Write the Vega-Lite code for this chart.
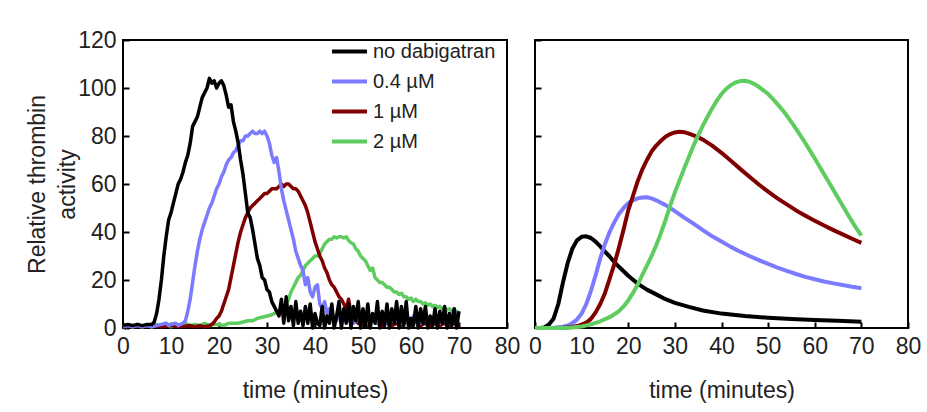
{
  "$schema": "https://vega.github.io/schema/vega-lite/v6.json",
  "background": "white",
  "autosize": {"type": "pad"},
  "padding": {"left": 25, "top": 28, "right": 5, "bottom": 5},
  "config": {
    "font": "Liberation Sans",
    "view": {"stroke": "#000", "strokeWidth": 2},
    "axis": {"grid": false, "domain": false, "tickSize": -6, "tickColor": "#000", "tickWidth": 2, "labelFontSize": 23, "labelColor": "#222", "titleFontSize": 23, "titleFontWeight": "normal", "titleColor": "#222", "labelFlush": false, "labelPadding": 13, "labelOverlap": false},
    "axisX": {"titlePadding": 21},
    "axisY": {"titlePadding": -2, "titleLineHeight": 30}
  },
  "datasets": {
    "exp": [
      {"series":"2 µM","t":0,"v":0.5},{"series":"2 µM","t":1,"v":1},{"series":"2 µM","t":2,"v":0.5},{"series":"2 µM","t":3,"v":1.5},{"series":"2 µM","t":4,"v":0.5},{"series":"2 µM","t":5,"v":1},{"series":"2 µM","t":6,"v":0.5},{"series":"2 µM","t":7,"v":1.5},{"series":"2 µM","t":8,"v":1},{"series":"2 µM","t":9,"v":2},{"series":"2 µM","t":10,"v":0.5},{"series":"2 µM","t":11,"v":1.5},{"series":"2 µM","t":12,"v":1},{"series":"2 µM","t":13,"v":2},{"series":"2 µM","t":14,"v":1},{"series":"2 µM","t":15,"v":1.5},{"series":"2 µM","t":16,"v":1},{"series":"2 µM","t":17,"v":2},{"series":"2 µM","t":18,"v":1},{"series":"2 µM","t":19,"v":1.5},{"series":"2 µM","t":20,"v":1.5},{"series":"2 µM","t":21,"v":1},{"series":"2 µM","t":22,"v":2},{"series":"2 µM","t":23,"v":2},{"series":"2 µM","t":24,"v":2},{"series":"2 µM","t":25,"v":2.5},{"series":"2 µM","t":26,"v":3},{"series":"2 µM","t":27,"v":3},{"series":"2 µM","t":28,"v":4},{"series":"2 µM","t":29,"v":4.5},{"series":"2 µM","t":30,"v":5},{"series":"2 µM","t":31,"v":5.5},{"series":"2 µM","t":32,"v":6.5},{"series":"2 µM","t":33,"v":8},{"series":"2 µM","t":34,"v":10},{"series":"2 µM","t":34.5,"v":12},{"series":"2 µM","t":35,"v":15},{"series":"2 µM","t":35.5,"v":17},{"series":"2 µM","t":36,"v":19},{"series":"2 µM","t":36.5,"v":21},{"series":"2 µM","t":37,"v":22},{"series":"2 µM","t":37.5,"v":24},{"series":"2 µM","t":38,"v":26},{"series":"2 µM","t":38.5,"v":27},{"series":"2 µM","t":39,"v":28},{"series":"2 µM","t":39.5,"v":29},{"series":"2 µM","t":40,"v":30},{"series":"2 µM","t":40.5,"v":30},{"series":"2 µM","t":41,"v":31},{"series":"2 µM","t":41.5,"v":33},{"series":"2 µM","t":42,"v":35},{"series":"2 µM","t":42.5,"v":36},{"series":"2 µM","t":43,"v":37},{"series":"2 µM","t":43.5,"v":37},{"series":"2 µM","t":44,"v":38},{"series":"2 µM","t":44.5,"v":37.5},{"series":"2 µM","t":45,"v":38},{"series":"2 µM","t":45.5,"v":38},{"series":"2 µM","t":46,"v":37.5},{"series":"2 µM","t":46.5,"v":38},{"series":"2 µM","t":47,"v":36.5},{"series":"2 µM","t":47.5,"v":35.5},{"series":"2 µM","t":48,"v":35},{"series":"2 µM","t":48.5,"v":33},{"series":"2 µM","t":49,"v":32},{"series":"2 µM","t":49.5,"v":30},{"series":"2 µM","t":50,"v":29},{"series":"2 µM","t":50.5,"v":28},{"series":"2 µM","t":51,"v":26},{"series":"2 µM","t":51.5,"v":24},{"series":"2 µM","t":52,"v":25},{"series":"2 µM","t":52.5,"v":21},{"series":"2 µM","t":53,"v":20},{"series":"2 µM","t":53.5,"v":19},{"series":"2 µM","t":54,"v":19},{"series":"2 µM","t":54.5,"v":18},{"series":"2 µM","t":55,"v":17},{"series":"2 µM","t":55.5,"v":17},{"series":"2 µM","t":56,"v":16},{"series":"2 µM","t":56.5,"v":15},{"series":"2 µM","t":57,"v":15},{"series":"2 µM","t":57.5,"v":14},{"series":"2 µM","t":58,"v":14.5},{"series":"2 µM","t":58.5,"v":13},{"series":"2 µM","t":59,"v":13},{"series":"2 µM","t":59.5,"v":12},{"series":"2 µM","t":60,"v":12.5},{"series":"2 µM","t":60.5,"v":11},{"series":"2 µM","t":61,"v":12},{"series":"2 µM","t":61.5,"v":11},{"series":"2 µM","t":62,"v":11},{"series":"2 µM","t":62.5,"v":10},{"series":"2 µM","t":63,"v":10.5},{"series":"2 µM","t":63.5,"v":9.5},{"series":"2 µM","t":64,"v":10},{"series":"2 µM","t":64.5,"v":9},{"series":"2 µM","t":65,"v":9.5},{"series":"2 µM","t":65.5,"v":8.5},{"series":"2 µM","t":66,"v":9},{"series":"2 µM","t":66.5,"v":8},{"series":"2 µM","t":67,"v":8.5},{"series":"2 µM","t":67.5,"v":7.5},{"series":"2 µM","t":68,"v":8},{"series":"2 µM","t":68.5,"v":7},{"series":"2 µM","t":69,"v":8},{"series":"2 µM","t":69.5,"v":6.5},{"series":"2 µM","t":70,"v":7},
      {"series":"1 µM","t":0,"v":0.5},{"series":"1 µM","t":2,"v":1},{"series":"1 µM","t":4,"v":0.5},{"series":"1 µM","t":6,"v":1},{"series":"1 µM","t":8,"v":0.5},{"series":"1 µM","t":10,"v":1},{"series":"1 µM","t":12,"v":0.5},{"series":"1 µM","t":14,"v":1},{"series":"1 µM","t":15,"v":0.5},{"series":"1 µM","t":16,"v":1},{"series":"1 µM","t":17,"v":0.5},{"series":"1 µM","t":18,"v":1},{"series":"1 µM","t":18.5,"v":1.5},{"series":"1 µM","t":19,"v":2.5},{"series":"1 µM","t":19.5,"v":4},{"series":"1 µM","t":20,"v":5},{"series":"1 µM","t":20.5,"v":7},{"series":"1 µM","t":21,"v":10},{"series":"1 µM","t":21.5,"v":13},{"series":"1 µM","t":22,"v":16},{"series":"1 µM","t":22.5,"v":21},{"series":"1 µM","t":23,"v":26},{"series":"1 µM","t":23.5,"v":31},{"series":"1 µM","t":24,"v":36},{"series":"1 µM","t":24.5,"v":40},{"series":"1 µM","t":25,"v":43},{"series":"1 µM","t":25.5,"v":46},{"series":"1 µM","t":26,"v":48},{"series":"1 µM","t":26.5,"v":50},{"series":"1 µM","t":27,"v":51},{"series":"1 µM","t":27.5,"v":52},{"series":"1 µM","t":28,"v":53},{"series":"1 µM","t":28.5,"v":54},{"series":"1 µM","t":29,"v":55},{"series":"1 µM","t":29.5,"v":56},{"series":"1 µM","t":30,"v":56},{"series":"1 µM","t":30.5,"v":57},{"series":"1 µM","t":31,"v":58},{"series":"1 µM","t":31.5,"v":58},{"series":"1 µM","t":32,"v":58},{"series":"1 µM","t":32.5,"v":59},{"series":"1 µM","t":33,"v":60},{"series":"1 µM","t":33.5,"v":59},{"series":"1 µM","t":34,"v":60},{"series":"1 µM","t":34.5,"v":60},{"series":"1 µM","t":35,"v":59},{"series":"1 µM","t":35.5,"v":58},{"series":"1 µM","t":36,"v":58},{"series":"1 µM","t":36.5,"v":57},{"series":"1 µM","t":37,"v":55},{"series":"1 µM","t":37.5,"v":53},{"series":"1 µM","t":38,"v":51},{"series":"1 µM","t":38.5,"v":48},{"series":"1 µM","t":39,"v":44},{"series":"1 µM","t":39.5,"v":40},{"series":"1 µM","t":40,"v":36},{"series":"1 µM","t":40.5,"v":33},{"series":"1 µM","t":41,"v":30},{"series":"1 µM","t":41.5,"v":28},{"series":"1 µM","t":42,"v":25},{"series":"1 µM","t":42.5,"v":23},{"series":"1 µM","t":43,"v":20},{"series":"1 µM","t":43.5,"v":18},{"series":"1 µM","t":44,"v":17},{"series":"1 µM","t":44.5,"v":15},{"series":"1 µM","t":45,"v":13},{"series":"1 µM","t":45.5,"v":12},{"series":"1 µM","t":46,"v":10},{"series":"1 µM","t":46.5,"v":8},{"series":"1 µM","t":47,"v":12},{"series":"1 µM","t":47.5,"v":6},{"series":"1 µM","t":48,"v":4},{"series":"1 µM","t":48.5,"v":3},{"series":"1 µM","t":49,"v":2},{"series":"1 µM","t":50,"v":3},{"series":"1 µM","t":51,"v":1},{"series":"1 µM","t":52,"v":4},{"series":"1 µM","t":53,"v":2},{"series":"1 µM","t":54,"v":1},{"series":"1 µM","t":55,"v":3},{"series":"1 µM","t":56,"v":1},{"series":"1 µM","t":57,"v":2},{"series":"1 µM","t":58,"v":1},{"series":"1 µM","t":59,"v":3},{"series":"1 µM","t":60,"v":1},{"series":"1 µM","t":61,"v":3},{"series":"1 µM","t":62,"v":1},{"series":"1 µM","t":63,"v":2},{"series":"1 µM","t":64,"v":1},{"series":"1 µM","t":65,"v":2},{"series":"1 µM","t":66,"v":1},{"series":"1 µM","t":67,"v":2},{"series":"1 µM","t":68,"v":1},{"series":"1 µM","t":69,"v":2},{"series":"1 µM","t":70,"v":1},
      {"series":"0.4 µM","t":0,"v":0.5},{"series":"0.4 µM","t":1,"v":1},{"series":"0.4 µM","t":2,"v":0.5},{"series":"0.4 µM","t":3,"v":1},{"series":"0.4 µM","t":4,"v":0.5},{"series":"0.4 µM","t":5,"v":1},{"series":"0.4 µM","t":6,"v":0.5},{"series":"0.4 µM","t":7,"v":1},{"series":"0.4 µM","t":8,"v":1.5},{"series":"0.4 µM","t":9,"v":2},{"series":"0.4 µM","t":9.5,"v":1},{"series":"0.4 µM","t":10,"v":1.5},{"series":"0.4 µM","t":11,"v":2},{"series":"0.4 µM","t":11.5,"v":1},{"series":"0.4 µM","t":12,"v":1.5},{"series":"0.4 µM","t":12.5,"v":2},{"series":"0.4 µM","t":13,"v":3},{"series":"0.4 µM","t":13.5,"v":7},{"series":"0.4 µM","t":14,"v":12},{"series":"0.4 µM","t":14.5,"v":19},{"series":"0.4 µM","t":15,"v":26},{"series":"0.4 µM","t":15.5,"v":32},{"series":"0.4 µM","t":16,"v":37},{"series":"0.4 µM","t":16.5,"v":41},{"series":"0.4 µM","t":17,"v":44},{"series":"0.4 µM","t":17.5,"v":47},{"series":"0.4 µM","t":18,"v":50},{"series":"0.4 µM","t":18.5,"v":52},{"series":"0.4 µM","t":19,"v":55},{"series":"0.4 µM","t":19.5,"v":58},{"series":"0.4 µM","t":20,"v":60},{"series":"0.4 µM","t":20.5,"v":63},{"series":"0.4 µM","t":21,"v":65},{"series":"0.4 µM","t":21.5,"v":68},{"series":"0.4 µM","t":22,"v":70},{"series":"0.4 µM","t":22.5,"v":71},{"series":"0.4 µM","t":23,"v":73},{"series":"0.4 µM","t":23.5,"v":74},{"series":"0.4 µM","t":24,"v":76},{"series":"0.4 µM","t":24.5,"v":78},{"series":"0.4 µM","t":25,"v":78},{"series":"0.4 µM","t":25.5,"v":80},{"series":"0.4 µM","t":26,"v":80},{"series":"0.4 µM","t":26.5,"v":81},{"series":"0.4 µM","t":27,"v":82},{"series":"0.4 µM","t":27.5,"v":81},{"series":"0.4 µM","t":28,"v":81},{"series":"0.4 µM","t":28.5,"v":82},{"series":"0.4 µM","t":29,"v":81},{"series":"0.4 µM","t":29.5,"v":82},{"series":"0.4 µM","t":30,"v":80},{"series":"0.4 µM","t":30.5,"v":77},{"series":"0.4 µM","t":31,"v":72},{"series":"0.4 µM","t":31.5,"v":69},{"series":"0.4 µM","t":32,"v":71},{"series":"0.4 µM","t":32.5,"v":65},{"series":"0.4 µM","t":33,"v":58},{"series":"0.4 µM","t":33.5,"v":53},{"series":"0.4 µM","t":34,"v":49},{"series":"0.4 µM","t":34.5,"v":45},{"series":"0.4 µM","t":35,"v":41},{"series":"0.4 µM","t":35.5,"v":37},{"series":"0.4 µM","t":36,"v":32},{"series":"0.4 µM","t":36.5,"v":29},{"series":"0.4 µM","t":37,"v":26},{"series":"0.4 µM","t":37.5,"v":24},{"series":"0.4 µM","t":38,"v":18},{"series":"0.4 µM","t":38.5,"v":21},{"series":"0.4 µM","t":39,"v":15},{"series":"0.4 µM","t":39.5,"v":13},{"series":"0.4 µM","t":40,"v":17},{"series":"0.4 µM","t":40.5,"v":18},{"series":"0.4 µM","t":41,"v":10},{"series":"0.4 µM","t":41.5,"v":8},{"series":"0.4 µM","t":42,"v":11},{"series":"0.4 µM","t":42.5,"v":6},{"series":"0.4 µM","t":43,"v":8},{"series":"0.4 µM","t":43.5,"v":4},{"series":"0.4 µM","t":44,"v":5},{"series":"0.4 µM","t":44.5,"v":3},{"series":"0.4 µM","t":45,"v":6},{"series":"0.4 µM","t":45.5,"v":2},{"series":"0.4 µM","t":46,"v":5},{"series":"0.4 µM","t":47,"v":3},{"series":"0.4 µM","t":47.5,"v":7},{"series":"0.4 µM","t":48,"v":2},{"series":"0.4 µM","t":49,"v":4},{"series":"0.4 µM","t":50,"v":3},{"series":"0.4 µM","t":50.5,"v":6},{"series":"0.4 µM","t":51,"v":2},{"series":"0.4 µM","t":52,"v":4},{"series":"0.4 µM","t":53,"v":2},{"series":"0.4 µM","t":53.5,"v":5},{"series":"0.4 µM","t":54,"v":3},{"series":"0.4 µM","t":55,"v":2},{"series":"0.4 µM","t":56,"v":4},{"series":"0.4 µM","t":57,"v":3},{"series":"0.4 µM","t":57.5,"v":6},{"series":"0.4 µM","t":58,"v":2},{"series":"0.4 µM","t":59,"v":3},{"series":"0.4 µM","t":60,"v":2},{"series":"0.4 µM","t":60.5,"v":5},{"series":"0.4 µM","t":61,"v":3},{"series":"0.4 µM","t":62,"v":2},{"series":"0.4 µM","t":63,"v":4},{"series":"0.4 µM","t":64,"v":2},{"series":"0.4 µM","t":65,"v":3},{"series":"0.4 µM","t":66,"v":2},{"series":"0.4 µM","t":66.5,"v":5},{"series":"0.4 µM","t":67,"v":3},{"series":"0.4 µM","t":68,"v":2},{"series":"0.4 µM","t":68.5,"v":6},{"series":"0.4 µM","t":69,"v":8},{"series":"0.4 µM","t":69.5,"v":3},{"series":"0.4 µM","t":70,"v":2},
      {"series":"no dabigatran","t":0,"v":1},{"series":"no dabigatran","t":1,"v":1.5},{"series":"no dabigatran","t":2,"v":1},{"series":"no dabigatran","t":3,"v":1.5},{"series":"no dabigatran","t":4,"v":1},{"series":"no dabigatran","t":5,"v":1.5},{"series":"no dabigatran","t":6,"v":1.5},{"series":"no dabigatran","t":6.5,"v":2.5},{"series":"no dabigatran","t":7,"v":6},{"series":"no dabigatran","t":7.5,"v":12},{"series":"no dabigatran","t":8,"v":20},{"series":"no dabigatran","t":8.5,"v":30},{"series":"no dabigatran","t":9,"v":38},{"series":"no dabigatran","t":9.5,"v":45},{"series":"no dabigatran","t":10,"v":48},{"series":"no dabigatran","t":10.5,"v":52},{"series":"no dabigatran","t":11,"v":56},{"series":"no dabigatran","t":11.5,"v":60},{"series":"no dabigatran","t":12,"v":62},{"series":"no dabigatran","t":12.5,"v":65},{"series":"no dabigatran","t":13,"v":69},{"series":"no dabigatran","t":13.5,"v":72},{"series":"no dabigatran","t":14,"v":77},{"series":"no dabigatran","t":14.5,"v":84},{"series":"no dabigatran","t":15,"v":86},{"series":"no dabigatran","t":15.5,"v":88},{"series":"no dabigatran","t":16,"v":92},{"series":"no dabigatran","t":16.5,"v":96},{"series":"no dabigatran","t":17,"v":98},{"series":"no dabigatran","t":17.5,"v":100},{"series":"no dabigatran","t":18,"v":104},{"series":"no dabigatran","t":18.5,"v":102},{"series":"no dabigatran","t":19,"v":103},{"series":"no dabigatran","t":19.5,"v":100},{"series":"no dabigatran","t":20,"v":102},{"series":"no dabigatran","t":20.5,"v":103},{"series":"no dabigatran","t":21,"v":101},{"series":"no dabigatran","t":21.5,"v":97},{"series":"no dabigatran","t":22,"v":92},{"series":"no dabigatran","t":22.5,"v":93},{"series":"no dabigatran","t":23,"v":86},{"series":"no dabigatran","t":23.5,"v":82},{"series":"no dabigatran","t":24,"v":77},{"series":"no dabigatran","t":24.5,"v":70},{"series":"no dabigatran","t":25,"v":64},{"series":"no dabigatran","t":25.5,"v":56},{"series":"no dabigatran","t":26,"v":48},{"series":"no dabigatran","t":26.5,"v":46},{"series":"no dabigatran","t":27,"v":41},{"series":"no dabigatran","t":27.5,"v":35},{"series":"no dabigatran","t":28,"v":29},{"series":"no dabigatran","t":28.5,"v":26},{"series":"no dabigatran","t":29,"v":21},{"series":"no dabigatran","t":29.5,"v":20},{"series":"no dabigatran","t":30,"v":16},{"series":"no dabigatran","t":30.5,"v":15},{"series":"no dabigatran","t":31,"v":11},{"series":"no dabigatran","t":31.5,"v":9},{"series":"no dabigatran","t":32,"v":7},{"series":"no dabigatran","t":32.5,"v":5},{"series":"no dabigatran","t":33,"v":12},{"series":"no dabigatran","t":33.5,"v":2},{"series":"no dabigatran","t":34,"v":13},{"series":"no dabigatran","t":34.5,"v":3},{"series":"no dabigatran","t":35,"v":9},{"series":"no dabigatran","t":35.5,"v":1},{"series":"no dabigatran","t":36,"v":11},{"series":"no dabigatran","t":36.5,"v":2},{"series":"no dabigatran","t":37,"v":7},{"series":"no dabigatran","t":37.5,"v":1},{"series":"no dabigatran","t":38,"v":9},{"series":"no dabigatran","t":38.5,"v":2},{"series":"no dabigatran","t":39,"v":10},{"series":"no dabigatran","t":39.5,"v":0},{"series":"no dabigatran","t":40,"v":6},{"series":"no dabigatran","t":40.5,"v":2},{"series":"no dabigatran","t":41,"v":1},{"series":"no dabigatran","t":41.5,"v":9},{"series":"no dabigatran","t":42,"v":0},{"series":"no dabigatran","t":42.5,"v":5},{"series":"no dabigatran","t":43,"v":2},{"series":"no dabigatran","t":43.5,"v":10},{"series":"no dabigatran","t":44,"v":0},{"series":"no dabigatran","t":44.5,"v":5},{"series":"no dabigatran","t":45,"v":11},{"series":"no dabigatran","t":45.5,"v":0},{"series":"no dabigatran","t":46,"v":8},{"series":"no dabigatran","t":46.5,"v":2},{"series":"no dabigatran","t":47,"v":10},{"series":"no dabigatran","t":47.5,"v":0},{"series":"no dabigatran","t":48,"v":9},{"series":"no dabigatran","t":48.5,"v":3},{"series":"no dabigatran","t":49,"v":11},{"series":"no dabigatran","t":49.5,"v":0},{"series":"no dabigatran","t":50,"v":8},{"series":"no dabigatran","t":50.5,"v":1},{"series":"no dabigatran","t":51,"v":10},{"series":"no dabigatran","t":51.5,"v":0},{"series":"no dabigatran","t":52,"v":6},{"series":"no dabigatran","t":52.5,"v":2},{"series":"no dabigatran","t":53,"v":11},{"series":"no dabigatran","t":53.5,"v":0},{"series":"no dabigatran","t":54,"v":7},{"series":"no dabigatran","t":54.5,"v":1},{"series":"no dabigatran","t":55,"v":10},{"series":"no dabigatran","t":55.5,"v":0},{"series":"no dabigatran","t":56,"v":8},{"series":"no dabigatran","t":56.5,"v":2},{"series":"no dabigatran","t":57,"v":11},{"series":"no dabigatran","t":57.5,"v":0},{"series":"no dabigatran","t":58,"v":9},{"series":"no dabigatran","t":58.5,"v":1},{"series":"no dabigatran","t":59,"v":11},{"series":"no dabigatran","t":59.5,"v":0},{"series":"no dabigatran","t":60,"v":4},{"series":"no dabigatran","t":60.5,"v":1},{"series":"no dabigatran","t":61,"v":9},{"series":"no dabigatran","t":61.5,"v":0},{"series":"no dabigatran","t":62,"v":8},{"series":"no dabigatran","t":62.5,"v":2},{"series":"no dabigatran","t":63,"v":9},{"series":"no dabigatran","t":63.5,"v":0},{"series":"no dabigatran","t":64,"v":5},{"series":"no dabigatran","t":64.5,"v":1},{"series":"no dabigatran","t":65,"v":8},{"series":"no dabigatran","t":65.5,"v":0},{"series":"no dabigatran","t":66,"v":7},{"series":"no dabigatran","t":66.5,"v":2},{"series":"no dabigatran","t":67,"v":9},{"series":"no dabigatran","t":67.5,"v":0},{"series":"no dabigatran","t":68,"v":6},{"series":"no dabigatran","t":68.5,"v":1},{"series":"no dabigatran","t":69,"v":8},{"series":"no dabigatran","t":69.5,"v":0},{"series":"no dabigatran","t":70,"v":7}
    ],
    "model": [
      {"series":"no dabigatran","t":0,"v":0},{"series":"no dabigatran","t":1,"v":0},{"series":"no dabigatran","t":2,"v":0.2},{"series":"no dabigatran","t":3,"v":1.5},{"series":"no dabigatran","t":4,"v":4},{"series":"no dabigatran","t":5,"v":10},{"series":"no dabigatran","t":6,"v":19},{"series":"no dabigatran","t":7,"v":27},{"series":"no dabigatran","t":8,"v":33},{"series":"no dabigatran","t":9,"v":36.5},{"series":"no dabigatran","t":10,"v":38},{"series":"no dabigatran","t":11,"v":38.2},{"series":"no dabigatran","t":12,"v":37.5},{"series":"no dabigatran","t":13,"v":36},{"series":"no dabigatran","t":14,"v":34},{"series":"no dabigatran","t":15,"v":31.8},{"series":"no dabigatran","t":16,"v":29.8},{"series":"no dabigatran","t":17,"v":27.5},{"series":"no dabigatran","t":18,"v":25.5},{"series":"no dabigatran","t":20,"v":21.8},{"series":"no dabigatran","t":22,"v":18.5},{"series":"no dabigatran","t":24,"v":16},{"series":"no dabigatran","t":26,"v":14},{"series":"no dabigatran","t":28,"v":12},{"series":"no dabigatran","t":30,"v":10.5},{"series":"no dabigatran","t":33,"v":8.8},{"series":"no dabigatran","t":36,"v":7.3},{"series":"no dabigatran","t":40,"v":6},{"series":"no dabigatran","t":45,"v":5},{"series":"no dabigatran","t":50,"v":4.3},{"series":"no dabigatran","t":55,"v":3.8},{"series":"no dabigatran","t":60,"v":3.3},{"series":"no dabigatran","t":65,"v":3},{"series":"no dabigatran","t":70,"v":2.6},
      {"series":"0.4 µM","t":0,"v":0},{"series":"0.4 µM","t":2,"v":0},{"series":"0.4 µM","t":4,"v":0.1},{"series":"0.4 µM","t":6,"v":0.5},{"series":"0.4 µM","t":7,"v":1},{"series":"0.4 µM","t":8,"v":2},{"series":"0.4 µM","t":9,"v":3.5},{"series":"0.4 µM","t":10,"v":6},{"series":"0.4 µM","t":11,"v":10},{"series":"0.4 µM","t":12,"v":15.5},{"series":"0.4 µM","t":13,"v":22},{"series":"0.4 µM","t":14,"v":29},{"series":"0.4 µM","t":15,"v":35},{"series":"0.4 µM","t":16,"v":40},{"series":"0.4 µM","t":17,"v":44},{"series":"0.4 µM","t":18,"v":47.5},{"series":"0.4 µM","t":19,"v":50},{"series":"0.4 µM","t":20,"v":52},{"series":"0.4 µM","t":21,"v":53.2},{"series":"0.4 µM","t":22,"v":54},{"series":"0.4 µM","t":23,"v":54.4},{"series":"0.4 µM","t":24,"v":54.5},{"series":"0.4 µM","t":25,"v":54},{"series":"0.4 µM","t":26,"v":53.2},{"series":"0.4 µM","t":27,"v":52.2},{"series":"0.4 µM","t":28,"v":51.2},{"series":"0.4 µM","t":29,"v":50},{"series":"0.4 µM","t":30,"v":48.7},{"series":"0.4 µM","t":32,"v":46},{"series":"0.4 µM","t":34,"v":43.5},{"series":"0.4 µM","t":36,"v":40.8},{"series":"0.4 µM","t":38,"v":38.2},{"series":"0.4 µM","t":40,"v":36},{"series":"0.4 µM","t":42,"v":33.8},{"series":"0.4 µM","t":44,"v":31.8},{"series":"0.4 µM","t":46,"v":30},{"series":"0.4 µM","t":48,"v":28.3},{"series":"0.4 µM","t":50,"v":26.7},{"series":"0.4 µM","t":52,"v":25.2},{"series":"0.4 µM","t":54,"v":23.8},{"series":"0.4 µM","t":56,"v":22.5},{"series":"0.4 µM","t":58,"v":21.3},{"series":"0.4 µM","t":60,"v":20.3},{"series":"0.4 µM","t":62,"v":19.4},{"series":"0.4 µM","t":64,"v":18.6},{"series":"0.4 µM","t":66,"v":17.9},{"series":"0.4 µM","t":68,"v":17.2},{"series":"0.4 µM","t":70,"v":16.6},
      {"series":"1 µM","t":0,"v":0},{"series":"1 µM","t":4,"v":0},{"series":"1 µM","t":6,"v":0.1},{"series":"1 µM","t":8,"v":0.4},{"series":"1 µM","t":9,"v":0.8},{"series":"1 µM","t":10,"v":1.4},{"series":"1 µM","t":11,"v":2.2},{"series":"1 µM","t":12,"v":3.8},{"series":"1 µM","t":13,"v":6.5},{"series":"1 µM","t":14,"v":10},{"series":"1 µM","t":15,"v":14.5},{"series":"1 µM","t":16,"v":20.5},{"series":"1 µM","t":17,"v":26.5},{"series":"1 µM","t":18,"v":33.5},{"series":"1 µM","t":19,"v":41},{"series":"1 µM","t":20,"v":49},{"series":"1 µM","t":21,"v":55},{"series":"1 µM","t":22,"v":61},{"series":"1 µM","t":23,"v":66},{"series":"1 µM","t":24,"v":70},{"series":"1 µM","t":25,"v":73.5},{"series":"1 µM","t":26,"v":76},{"series":"1 µM","t":27,"v":78},{"series":"1 µM","t":28,"v":79.7},{"series":"1 µM","t":29,"v":80.8},{"series":"1 µM","t":30,"v":81.5},{"series":"1 µM","t":31,"v":81.8},{"series":"1 µM","t":32,"v":81.6},{"series":"1 µM","t":33,"v":81},{"series":"1 µM","t":34,"v":80.3},{"series":"1 µM","t":35,"v":79.5},{"series":"1 µM","t":36,"v":78.5},{"series":"1 µM","t":38,"v":76},{"series":"1 µM","t":40,"v":73},{"series":"1 µM","t":42,"v":69.7},{"series":"1 µM","t":44,"v":66.3},{"series":"1 µM","t":46,"v":63},{"series":"1 µM","t":48,"v":59.8},{"series":"1 µM","t":50,"v":56.8},{"series":"1 µM","t":52,"v":54},{"series":"1 µM","t":54,"v":51.5},{"series":"1 µM","t":56,"v":49},{"series":"1 µM","t":58,"v":46.8},{"series":"1 µM","t":60,"v":44.7},{"series":"1 µM","t":62,"v":42.7},{"series":"1 µM","t":64,"v":40.8},{"series":"1 µM","t":66,"v":39},{"series":"1 µM","t":68,"v":37.2},{"series":"1 µM","t":70,"v":35.5},
      {"series":"2 µM","t":0,"v":0},{"series":"2 µM","t":6,"v":0},{"series":"2 µM","t":8,"v":0.2},{"series":"2 µM","t":10,"v":0.6},{"series":"2 µM","t":12,"v":1.5},{"series":"2 µM","t":14,"v":2.8},{"series":"2 µM","t":16,"v":4.5},{"series":"2 µM","t":18,"v":7},{"series":"2 µM","t":19,"v":9},{"series":"2 µM","t":20,"v":11.5},{"series":"2 µM","t":21,"v":14.5},{"series":"2 µM","t":22,"v":18},{"series":"2 µM","t":23,"v":22},{"series":"2 µM","t":24,"v":26},{"series":"2 µM","t":25,"v":30},{"series":"2 µM","t":26,"v":34.5},{"series":"2 µM","t":27,"v":39.5},{"series":"2 µM","t":28,"v":45},{"series":"2 µM","t":29,"v":51},{"series":"2 µM","t":30,"v":56.5},{"series":"2 µM","t":31,"v":61.5},{"series":"2 µM","t":32,"v":66.5},{"series":"2 µM","t":33,"v":71.3},{"series":"2 µM","t":34,"v":76},{"series":"2 µM","t":35,"v":80.3},{"series":"2 µM","t":36,"v":84.3},{"series":"2 µM","t":37,"v":88},{"series":"2 µM","t":38,"v":91.5},{"series":"2 µM","t":39,"v":94.7},{"series":"2 µM","t":40,"v":97.5},{"series":"2 µM","t":41,"v":99.6},{"series":"2 µM","t":42,"v":101.2},{"series":"2 µM","t":43,"v":102.3},{"series":"2 µM","t":44,"v":102.9},{"series":"2 µM","t":45,"v":103},{"series":"2 µM","t":46,"v":102.6},{"series":"2 µM","t":47,"v":101.7},{"series":"2 µM","t":48,"v":100.5},{"series":"2 µM","t":49,"v":99},{"series":"2 µM","t":50,"v":97.5},{"series":"2 µM","t":51,"v":95.5},{"series":"2 µM","t":52,"v":93.3},{"series":"2 µM","t":53,"v":91},{"series":"2 µM","t":54,"v":88.5},{"series":"2 µM","t":55,"v":85.8},{"series":"2 µM","t":56,"v":83},{"series":"2 µM","t":57,"v":80},{"series":"2 µM","t":58,"v":77},{"series":"2 µM","t":59,"v":73.8},{"series":"2 µM","t":60,"v":70.6},{"series":"2 µM","t":61,"v":67.4},{"series":"2 µM","t":62,"v":64.1},{"series":"2 µM","t":63,"v":60.8},{"series":"2 µM","t":64,"v":57.5},{"series":"2 µM","t":65,"v":54.2},{"series":"2 µM","t":66,"v":50.9},{"series":"2 µM","t":67,"v":47.6},{"series":"2 µM","t":68,"v":44.4},{"series":"2 µM","t":69,"v":41.3},{"series":"2 µM","t":70,"v":38.5}
    ]
  },
  "resolve": {"scale": {"color": "independent"}, "legend": {"color": "independent"}},
  "bounds": "flush",
  "spacing": 28,
  "hconcat": [
    {
      "width": 384,
      "height": 288,
      "data": {"name": "exp"},
      "mark": {"type": "line", "strokeWidth": 3.5, "strokeJoin": "round"},
      "encoding": {
        "x": {"field": "t", "type": "quantitative", "scale": {"domain": [0, 80], "nice": false}, "axis": {"values": [0,10,20,30,40,50,60,70,80], "title": "time (minutes)"}},
        "y": {"field": "v", "type": "quantitative", "scale": {"domain": [0, 120], "nice": false}, "axis": {"values": [0,20,40,60,80,100,120], "title": ["Relative thrombin", "activity"]}},
        "color": {"field": "series", "type": "nominal",
          "scale": {"domain": ["no dabigatran", "0.4 µM", "1 µM", "2 µM"], "range": ["#000000", "#7b7bff", "#800000", "#5fcc5f"]},
          "legend": {"orient": "none", "legendX": 207, "legendY": -8, "title": null, "symbolType": "stroke", "symbolSize": 1225, "symbolStrokeWidth": 4, "labelFontSize": 20, "labelOffset": 4, "labelColor": "#222", "rowPadding": -12, "padding": 0}
        }
      }
    },
    {
      "width": 373,
      "height": 288,
      "data": {"name": "model"},
      "mark": {"type": "line", "strokeWidth": 4, "strokeJoin": "round"},
      "encoding": {
        "x": {"field": "t", "type": "quantitative", "scale": {"domain": [0, 80], "nice": false}, "axis": {"values": [0,10,20,30,40,50,60,70,80], "title": "time (minutes)"}},
        "y": {"field": "v", "type": "quantitative", "scale": {"domain": [0, 120], "nice": false}, "axis": {"values": [0,20,40,60,80,100,120], "labels": false, "title": null}},
        "color": {"field": "series", "type": "nominal",
          "scale": {"domain": ["no dabigatran", "0.4 µM", "1 µM", "2 µM"], "range": ["#000000", "#7b7bff", "#800000", "#5fcc5f"]},
          "legend": null
        }
      }
    }
  ]
}
